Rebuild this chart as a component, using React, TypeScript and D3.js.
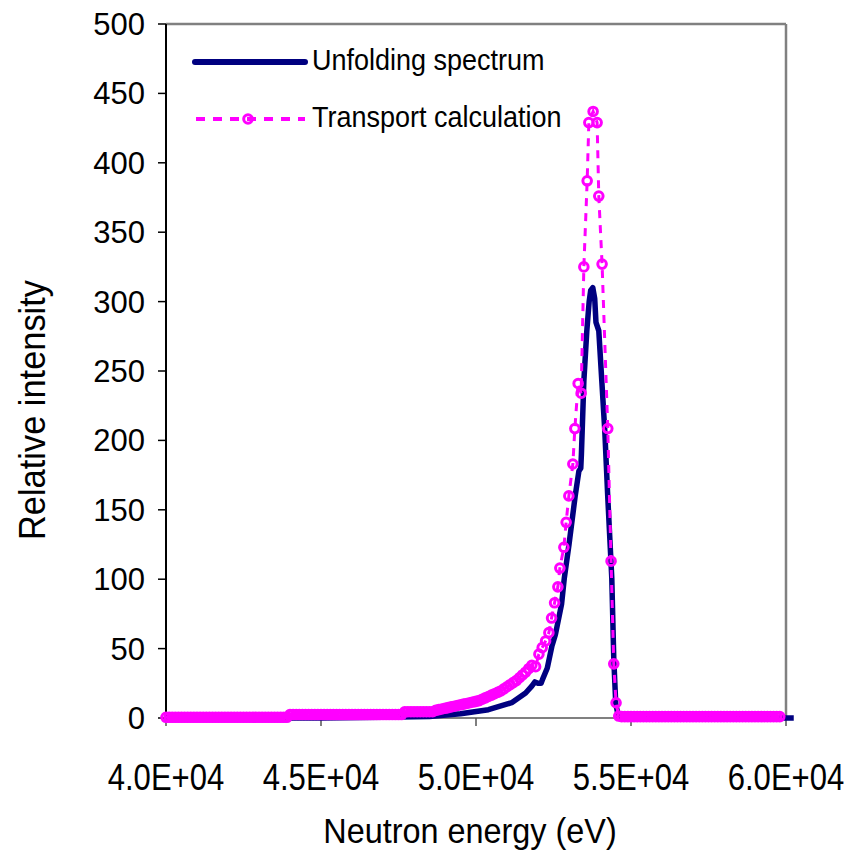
import React from "react";
import * as d3 from "d3";

// ---------- data ----------
const xTicks = [40000, 45000, 50000, 55000, 60000];
const xTickLabels = ["4.0E+04", "4.5E+04", "5.0E+04", "5.5E+04", "6.0E+04"];
const yTicks = [0, 50, 100, 150, 200, 250, 300, 350, 400, 450, 500];

const seriesNames = ["Unfolding spectrum", "Transport calculation"];

// Unfolding spectrum: [energy eV, relative intensity]
const unfolding: [number, number][] = [
  [40000, 0], [45000, 0], [47000, 0.5], [48500, 1], [49500, 3], [50400, 6],
  [51150, 11], [51600, 18], [51800, 23], [51900, 26], [52000, 25], [52100, 25],
  [52150, 28], [52300, 36], [52450, 52], [52560, 60], [52760, 82], [52850, 101],
  [53000, 125], [53200, 160], [53320, 178], [53380, 180], [53400, 190],
  [53480, 243], [53575, 279], [53650, 300], [53700, 308], [53768, 310],
  [53830, 302], [53870, 285], [53961, 279], [54058, 243], [54154, 207],
  [54251, 159], [54380, 101], [54444, 43], [54509, 10], [54605, 0], [60250, 0],
];

// Transport calculation energies (eV)
const transportEnergy: number[] = [
  40000, 40100, 40200, 40300, 40400, 40500, 40600, 40700, 40800, 40900,
  41000, 41100, 41200, 41300, 41400, 41500, 41600, 41700, 41800, 41900,
  42000, 42100, 42200, 42300, 42400, 42500, 42600, 42700, 42800, 42900,
  43000, 43100, 43200, 43300, 43400, 43500, 43600, 43700, 43800, 43900,
  44000, 44100, 44200, 44300, 44400, 44500, 44600, 44700, 44800, 44900,
  45000, 45100, 45200, 45300, 45400, 45500, 45600, 45700, 45800, 45900,
  46000, 46100, 46200, 46300, 46400, 46500, 46600, 46700, 46800, 46900,
  47000, 47100, 47200, 47300, 47400, 47500, 47600, 47700, 47800, 47900,
  48000, 48100, 48200, 48300, 48400, 48500, 48600, 48700, 48800, 48900,
  49000, 49100, 49200, 49300, 49400, 49500, 49600, 49700, 49800, 49900,
  50000, 50100, 50200, 50300, 50400, 50500, 50600, 50700, 50800, 50900,
  51000, 51100, 51200, 51300, 51400, 51500, 51600, 51700, 51800, 51923,
  52029, 52135, 52245, 52351, 52438, 52535, 52641, 52705, 52834, 52908,
  52995, 53124, 53189, 53295, 53392, 53479, 53586, 53640, 53778, 53907,
  53961, 54067, 54251, 54357, 54444, 54518, 54605,
  54700, 54800, 54900, 55000, 55100, 55200, 55300, 55400, 55500, 55600,
  55700, 55800, 55900, 56000, 56100, 56200, 56300, 56400, 56500, 56600,
  56700, 56800, 56900, 57000, 57100, 57200, 57300, 57400, 57500, 57600,
  57700, 57800, 57900, 58000, 58100, 58200, 58300, 58400, 58500, 58600,
  58700, 58800, 58900, 59000, 59100, 59200, 59300, 59400, 59500, 59600,
  59700, 59800,
];

// Transport calculation relative intensity (same order as energies)
const transportIntensity: number[] = [
  0.5, 0.5, 0.5, 0.5, 0.5, 0.5, 0.5, 0.5, 0.5, 0.5,
  0.5, 0.5, 0.5, 0.5, 0.5, 0.5, 0.5, 0.5, 0.5, 0.5,
  0.5, 0.5, 0.5, 0.5, 0.5, 0.5, 0.5, 0.5, 0.5, 0.5,
  0.5, 0.5, 0.5, 0.5, 0.5, 0.5, 0.5, 0.5, 0.5, 0.5,
  2.5, 2.5, 2.5, 2.5, 2.5, 2.5, 2.5, 2.5, 2.5, 2.5,
  2.5, 2.5, 2.5, 2.5, 2.5, 2.5, 2.5, 2.5, 2.5, 2.5,
  2.5, 2.5, 2.5, 2.5, 2.5, 2.5, 2.5, 2.5, 2.5, 2.5,
  2.5, 2.5, 2.5, 2.5, 2.5, 2.5, 2.5, 4.5, 4.5, 4.5,
  4.5, 4.5, 4.5, 4.5, 4.5, 4.5, 4.5, 5.5, 6, 6.5,
  7, 7.5, 8, 8.5, 9, 9.5, 10, 10.5, 11, 11.5,
  12, 12.5, 13.5, 14.5, 15.5, 16.5, 17.5, 18.5, 19.5, 21,
  22.5, 24, 25.5, 27, 29, 31, 33, 35.5, 38, 37,
  46, 50.7, 55.5, 61.5, 72, 83, 94.5, 108, 123, 141,
  160, 183, 208.5, 241, 234, 325, 387, 429, 437, 429,
  376, 327, 208.5, 113, 39, 11, 1.4,
  1, 1, 1, 1, 1, 1, 1, 1, 1, 1,
  1, 1, 1, 1, 1, 1, 1, 1, 1, 1,
  1, 1, 1, 1, 1, 1, 1, 1, 1, 1,
  1, 1, 1, 1, 1, 1, 1, 1, 1, 1,
  1, 1, 1, 1, 1, 1, 1, 1, 1, 1,
  1, 1,
];

// ---------- layout ----------
const W = 847;
const H = 855;
const X0 = 166;
const X1 = 786;
const Y0 = 718;
const Y1 = 24;

const NAVY = "#000080";
const MAGENTA = "#FF00FF";
const FRAME = "#808080";
const FONT = "'Liberation Sans', Arial, sans-serif";

export default function App() {
  const x = d3.scaleLinear().domain([40000, 60000]).range([X0, X1]);
  const y = d3.scaleLinear().domain([0, 500]).range([Y0, Y1]);

  const line = d3
    .line<[number, number]>()
    .x((d) => x(d[0]))
    .y((d) => y(d[1]));

  const transport: [number, number][] = transportEnergy.map((e, i) => [
    e,
    transportIntensity[i],
  ]);

  return (
    <svg
      width={W}
      height={H}
      viewBox={`0 0 ${W} ${H}`}
      style={{ position: "absolute", left: 0, top: 0, background: "#fff" }}
    >
      <rect x={0} y={0} width={W} height={H} fill="#fff" />

      {/* plot frame (top & right) */}
      <line x1={X0} x2={X1} y1={Y1} y2={Y1} stroke={FRAME} strokeWidth={2.5} />
      <line x1={X1} x2={X1} y1={Y1} y2={Y0} stroke={FRAME} strokeWidth={2.5} />

      {/* x axis */}
      <line x1={X0} x2={X1} y1={Y0} y2={Y0} stroke={FRAME} strokeWidth={2} />
      {xTicks.map((t, i) => (
        <g key={t}>
          <line x1={x(t)} x2={x(t)} y1={Y0} y2={Y0 + 8} stroke="#555" strokeWidth={1.5} />
          <text
            transform={`translate(${x(t)},${790}) scale(0.84,1)`}
            textAnchor="middle"
            fontFamily={FONT}
            fontSize={37}
            fill="#000"
          >
            {xTickLabels[i]}
          </text>
        </g>
      ))}

      {/* y axis */}
      {yTicks.map((t) => (
        <g key={t}>
          <line x1={X0 - 8} x2={X0} y1={y(t)} y2={y(t)} stroke="#000" strokeWidth={1.5} />
          <text
            x={145}
            y={y(t) + 11}
            textAnchor="end"
            fontFamily={FONT}
            fontSize={31}
            fill="#000"
          >
            {t}
          </text>
        </g>
      ))}
      <line x1={X0} x2={X0} y1={Y1} y2={Y0} stroke="#000" strokeWidth={2} />

      {/* axis titles */}
      <text
        transform={`translate(45,410) rotate(-90) scale(0.93,1)`}
        textAnchor="middle"
        fontFamily={FONT}
        fontSize={37}
        fill="#000"
      >
        Relative intensity
      </text>
      <text
        transform={`translate(470,843) scale(0.9,1)`}
        textAnchor="middle"
        fontFamily={FONT}
        fontSize={36}
        fill="#000"
      >
        Neutron energy (eV)
      </text>

      {/* unfolding spectrum */}
      <path
        d={line(unfolding) || ""}
        fill="none"
        stroke={NAVY}
        strokeWidth={5.5}
        strokeLinejoin="round"
      />

      {/* transport calculation */}
      <path
        d={line(transport) || ""}
        fill="none"
        stroke={MAGENTA}
        strokeWidth={3}
        strokeDasharray="8 7"
      />
      {transport.map((d, i) => (
        <circle
          key={i}
          cx={x(d[0])}
          cy={y(d[1])}
          r={4.3}
          fill="none"
          stroke={MAGENTA}
          strokeWidth={3}
        />
      ))}

      {/* legend */}
      <line x1={195} x2={305} y1={62} y2={62} stroke={NAVY} strokeWidth={6} strokeLinecap="round" />
      <text
        transform="translate(312,70) scale(0.9,1)"
        fontFamily={FONT}
        fontSize={30}
        fill="#000"
      >
        {seriesNames[0]}
      </text>
      <line
        x1={196}
        x2={305}
        y1={119}
        y2={119}
        stroke={MAGENTA}
        strokeWidth={4}
        strokeDasharray="9 8"
      />
      <circle cx={248} cy={119} r={4.3} fill="none" stroke={MAGENTA} strokeWidth={3} />
      <text
        transform="translate(312,127) scale(0.9,1)"
        fontFamily={FONT}
        fontSize={30}
        fill="#000"
      >
        {seriesNames[1]}
      </text>
    </svg>
  );
}
